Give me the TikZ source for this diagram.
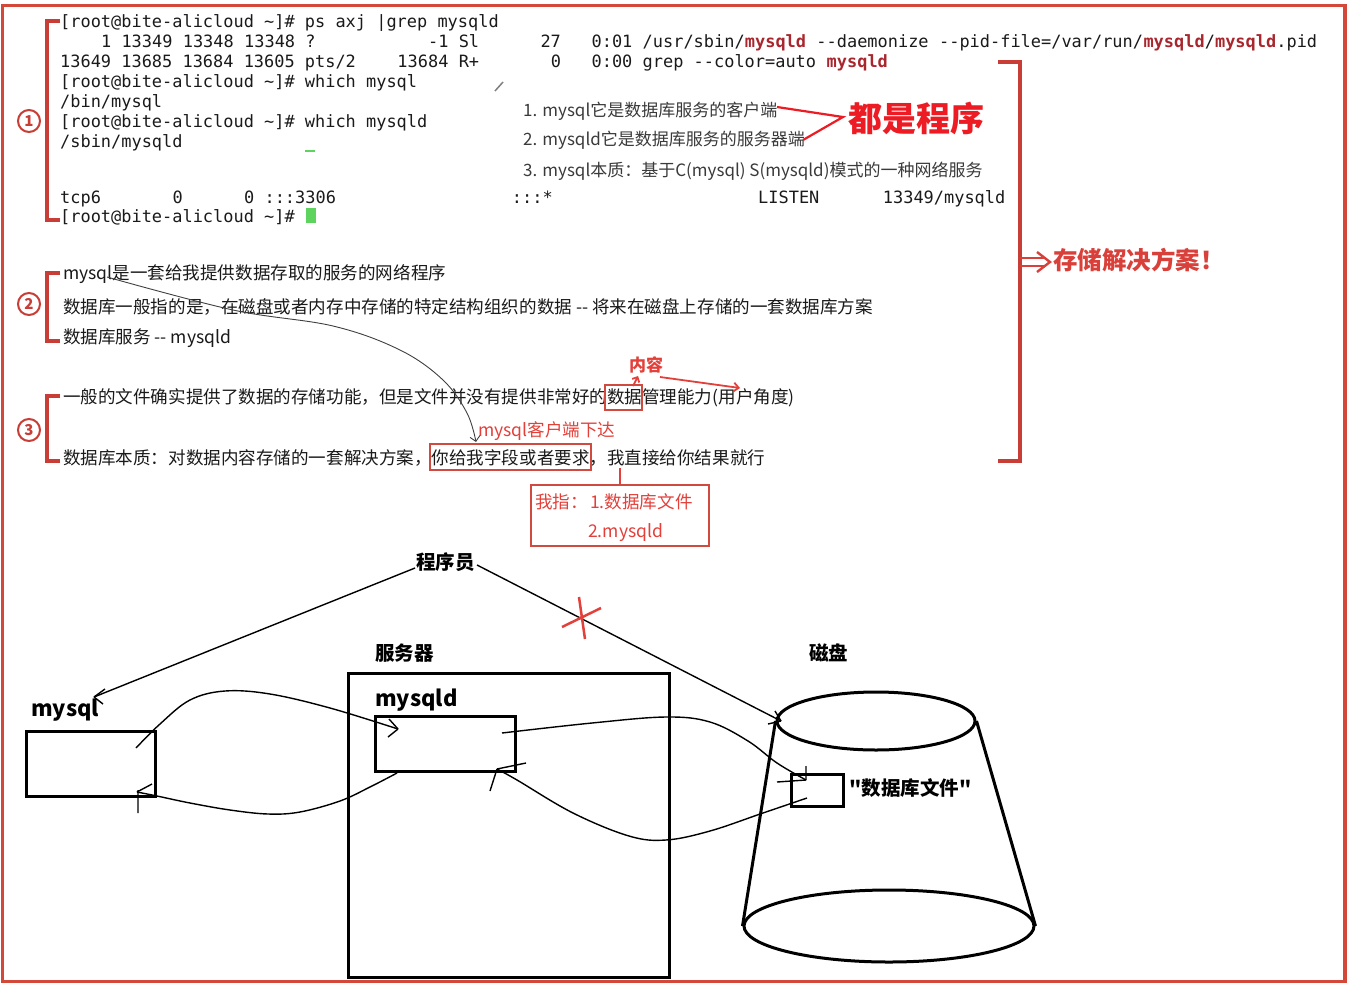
\documentclass[tikz,border=0pt]{standalone}
\usepackage{fontspec}
\setmainfont{Noto Sans CJK SC}
\setmonofont{DejaVu Sans Mono}
\newfontfamily\qfont{Noto Sans CJK SC}[Ligatures=TeXOff]
\usetikzlibrary{arrows.meta,shapes.geometric}
\definecolor{border}{HTML}{D4483A}
\definecolor{brk}{HTML}{C93D37}
\definecolor{hot}{HTML}{ED1C24}
\definecolor{ann}{HTML}{E3403A}
\definecolor{annbox}{HTML}{D04A40}
\definecolor{sol}{HTML}{D9403A}
\definecolor{grepred}{HTML}{A8262E}
\definecolor{curs}{HTML}{5ED35E}
\definecolor{ink}{HTML}{1A1A1A}
\definecolor{mid}{HTML}{3A3A3A}
\tikzset{
 term/.style={anchor=base west, inner sep=0, font=\ttfamily\fontsize{16.94}{20}\selectfont, text=ink},
 termred/.style={term, font=\ttfamily\bfseries\fontsize{16.94}{20}\selectfont, text=grepred},
 body/.style={anchor=base west, inner sep=0, font=\fontsize{17.55}{20}\selectfont, text=ink},
 midtxt/.style={body, font=\fontsize{17.0}{20}\selectfont, text=mid},
 anntxt/.style={body, text=ann},
 lbl/.style={anchor=base west, inner sep=0, font=\bfseries\fontsize{19.5}{22}\selectfont, text=black},
 bracket/.style={draw=brk, line width=3.2},
 circnum/.style={circle, draw=brk, line width=2, minimum size=22, inner sep=0, text=brk, font=\bfseries\fontsize{15}{15}\selectfont},
 redbox/.style={draw=annbox, line width=2, inner sep=0},
 annline/.style={draw=ann, line width=1.8},
 sketch/.style={draw=black, line width=1.4},
 heavy/.style={draw=black, line width=3, inner sep=0},
}
\newcounter{tn}
\newcommand{\tmx}[4][term]{\stepcounter{tn}\node[#1] (t\arabic{tn}) at ({60+#3*10.22},#2) {#4};}
\newcommand{\dq}{{\qfont\bfseries"}}
\begin{document}
\begin{tikzpicture}[x=1pt,y=-1pt]
\useasboundingbox (0,0) rectangle (1352,991);
\fill[white] (0,0) rectangle (1352,991);
\draw[draw=border, line width=3.5] (2.5,5.5) rectangle (1345,981.5);

% ---------- terminal ----------
\tmx{27}{0}{[root@bite-alicloud \textasciitilde]\# ps axj |grep mysqld}
\tmx{47}{4}{1} \tmx{47}{6}{13349} \tmx{47}{12}{13348} \tmx{47}{18}{13348}
\tmx{47}{24}{?} \tmx{47}{36}{-1} \tmx{47}{39}{Sl} \tmx{47}{47}{27}
\tmx{47}{52}{0:01} \tmx{47}{57}{/usr/sbin/} \tmx[termred]{47}{67}{mysqld}
\tmx{47}{74}{-{}-daemonize} \tmx{47}{86}{-{}-pid-file=/var/run/}
\tmx[termred]{47}{106}{mysqld} \tmx{47}{112}{/} \tmx[termred]{47}{113}{mysqld}
\tmx{47}{119}{.pid}
\tmx{67}{0}{13649 13685 13684 13605 pts/2} \tmx{67}{33}{13684} \tmx{67}{39}{R+}
\tmx{67}{48}{0} \tmx{67}{52}{0:00} \tmx{67}{57}{grep -{}-color=auto}
\tmx[termred]{67}{75}{mysqld}
\tmx{87}{0}{[root@bite-alicloud \textasciitilde]\# which mysql}
\tmx{107}{0}{/bin/mysql}
\tmx{127}{0}{[root@bite-alicloud \textasciitilde]\# which mysqld}
\tmx{147}{0}{/sbin/mysqld}
\tmx{203}{0}{tcp6} \tmx{203}{11}{0} \tmx{203}{18}{0} \tmx{203}{20}{:::3306}
\tmx{203}{44.2}{:::*} \tmx{203}{68.3}{LISTEN} \tmx{203}{80.5}{13349/mysqld}
\tmx{222}{0}{[root@bite-alicloud \textasciitilde]\#}
\node[fill=curs, minimum width=10, minimum height=15, inner sep=0] (cursor) at (311,215.5) {};
\draw[curs, line width=1.2] (305,151) -- (315,151);
\draw[gray, line width=1.5] (495,91) -- (503,82);

% ---------- middle notes ----------
\node[midtxt] (m1) at (523,116.5) {1. mysql它是数据库服务的客户端};
\node[midtxt] (m2) at (523,145.5) {2. mysqld它是数据库服务的服务器端};
\node[midtxt] (m3) at (523,176.5) {3. mysql本质：基于C(mysql) S(mysqld)模式的一种网络服务};
\node[anchor=base west, inner sep=0, font=\bfseries\fontsize{34}{36}\selectfont, text=hot] (prog) at (848,131.5) {都是程序};
\coordinate (vtip) at (843,117);
\draw[draw=hot, line width=2.2] (777,107) -- (vtip) -- (803,140);

% ---------- brackets ----------
\draw[bracket] (60,21) -- (47,21) -- (47,220) -- (60,220);
\draw[bracket] (60,273) -- (47,273) -- (47,341) -- (60,341);
\draw[bracket] (60,396) -- (47,396) -- (47,461) -- (60,461);
\node[circnum] (c1) at (29,121) {1};
\node[circnum] (c2) at (29,304) {2};
\node[circnum] (c3) at (29,430) {3};
\draw[bracket] (998,62) -- (1020,62) -- (1020,461) -- (998,461);
\draw[draw=sol, line width=2.4] (1020,258) -- (1045,258) (1020,266) -- (1045,266);
\draw[draw=sol, line width=2.4] (1037,252) -- (1050,262) -- (1037,272);
\node[anchor=base west, inner sep=0, font=\bfseries\fontsize{24.5}{26}\selectfont, text=sol] (solution) at (1053,269) {存储解决方案！};

% ---------- section 2 ----------
\node[body] (s21) at (63,279.6) {mysql是一套给我提供数据存取的服务的网络程序};
\node[body] (s22) at (63,313.6) {数据库一般指的是，在磁盘或者内存中存储的特定结构组织的数据 -{}- 将来在磁盘上存储的一套数据库方案};
\node[body] (s23) at (63,343.6) {数据库服务 -{}- mysqld};

% ---------- section 3 ----------
\node[body] (s31) at (63,403.6) {一般的文件确实提供了数据的存储功能，但是文件并没有提供非常好的数据管理能力(用户角度)};
\node[body] (s32) at (63,464.6) {数据库本质：对数据内容存储的一套解决方案，你给我字段或者要求，我直接给你结果就行};
\node[redbox, minimum width=37, minimum height=25] (shuju) at (623.5,397) {};
\node[anchor=base west, inner sep=0, font=\bfseries\fontsize{17}{20}\selectfont, text=ann] (neirong) at (629,371.5) {内容};
\draw[annline, -{Straight Barb[length=4pt,width=8pt]}] (633,386) -- (638,376);
\draw[annline, -{Straight Barb[length=5pt,width=9pt]}] (660,377) -- (740,388);
\node[anntxt] (xiada) at (478,436.6) {mysql客户端下达};
\node[redbox, minimum width=161, minimum height=26] (req) at (510.5,457) {};
\node[redbox, minimum width=178, minimum height=61] (zhi) at (620,515.5) {};
\node[anntxt] (zhi1) at (535,508.6) {我指：};
\node[anntxt] (zhi2) at (590,508.6) {1.数据库文件};
\node[anntxt] (zhi3) at (588,537.6) {2.mysqld};
\draw[annline] (620,468) -- (zhi.north);
\coordinate (cstart) at (107,277);
\coordinate (cend) at (476,442);
\draw[draw=black!75, line width=0.9, -{Straight Barb[length=5pt,width=10pt]}]
  plot[smooth, tension=0.6] coordinates {(cstart) (233,310) (333,326) (400,350) (443,380) (467,413) (cend)};

% ---------- bottom diagram ----------
\node[lbl] (programmer) at (416,569.6) {程序员};
\node[lbl] (server) at (375,660.6) {服务器};
\node[lbl] (disk) at (809,660.6) {磁盘};
\node[heavy, minimum width=321, minimum height=304] (srv) at (508.5,825) {};
\node[anchor=base west, inner sep=0, font=\bfseries\fontsize{22}{24}\selectfont] (mysqldlbl) at (375,706) {mysqld};
\node[heavy, minimum width=140, minimum height=55] (mysqldbox) at (445,743.5) {};
\node[anchor=base west, inner sep=0, font=\bfseries\fontsize{22}{24}\selectfont] (mysqllbl) at (31,716) {mysql};
\node[heavy, minimum width=129, minimum height=65] (mysqlbox) at (90.5,763.5) {};
\node[ellipse, draw=black, line width=3, minimum width=198, minimum height=58, inner sep=0] (dtop) at (876,721) {};
\node[ellipse, draw=black, line width=3, minimum width=290, minimum height=72, inner sep=0] (dbot) at (889,926) {};
\draw[line width=3] (dtop.west) -- (dbot.west) (dtop.east) -- (dbot.east);
\node[heavy, minimum width=52, minimum height=32] (dbfile) at (817,790) {};
\node[lbl] (dbfilelbl) at (849,795.2) {\dq 数据库文件\dq};

% programmer lines
\coordinate (pl) at (415,568);
\coordinate (pr) at (477,565);
\coordinate (tipm) at (94,697);
\coordinate (tipd) at (781,721);
\draw[sketch] (pl) -- (tipm);
\draw[sketch] (tipm) -- (105,689) (tipm) -- (103,704);
\draw[sketch] (pr) -- (tipd);
\draw[sketch] (tipd) -- (768,724) (tipd) -- (775,711);
\draw[draw=ann, line width=2.5] (562,627) -- (601,608) (579,597) -- (585,639);

% curves
\coordinate (a0) at (136,748);
\coordinate (a1) at (398,729);
\draw[sketch] plot[smooth, tension=0.6] coordinates {(a0) (160,724) (190,700) (225,691) (270,694) (330,708) (a1)};
\draw[sketch] (a1) -- (389,719) (a1) -- (388,737);

\coordinate (b0) at (397,773);
\coordinate (b1) at (137,792);
\draw[sketch] plot[smooth, tension=0.6] coordinates {(b0) (370,787) (340,801) (300,812) (268,814) (230,810) (190,803) (157,796) (b1)};
\draw[sketch] (b1) -- (152,784) (138,790) -- (138,813);

\coordinate (c0) at (502,733);
\coordinate (c1) at (806,780);
\draw[sketch] plot[smooth, tension=0.6] coordinates {(c0) (592,723) (666,717) (710,722) (748,741) (777,763) (c1)};
\draw[sketch] (c1) -- (777,782) (c1) -- (806,766);

\coordinate (d0) at (807,798);
\coordinate (d1) at (497,769);
\draw[sketch] plot[smooth, tension=0.6] coordinates {(d0) (763,813) (710,831) (666,840) (629,836) (573,813) (517,780) (d1)};
\draw[sketch] (d1) -- (490,791) (d1) -- (526,763);
\end{tikzpicture}
\end{document}
